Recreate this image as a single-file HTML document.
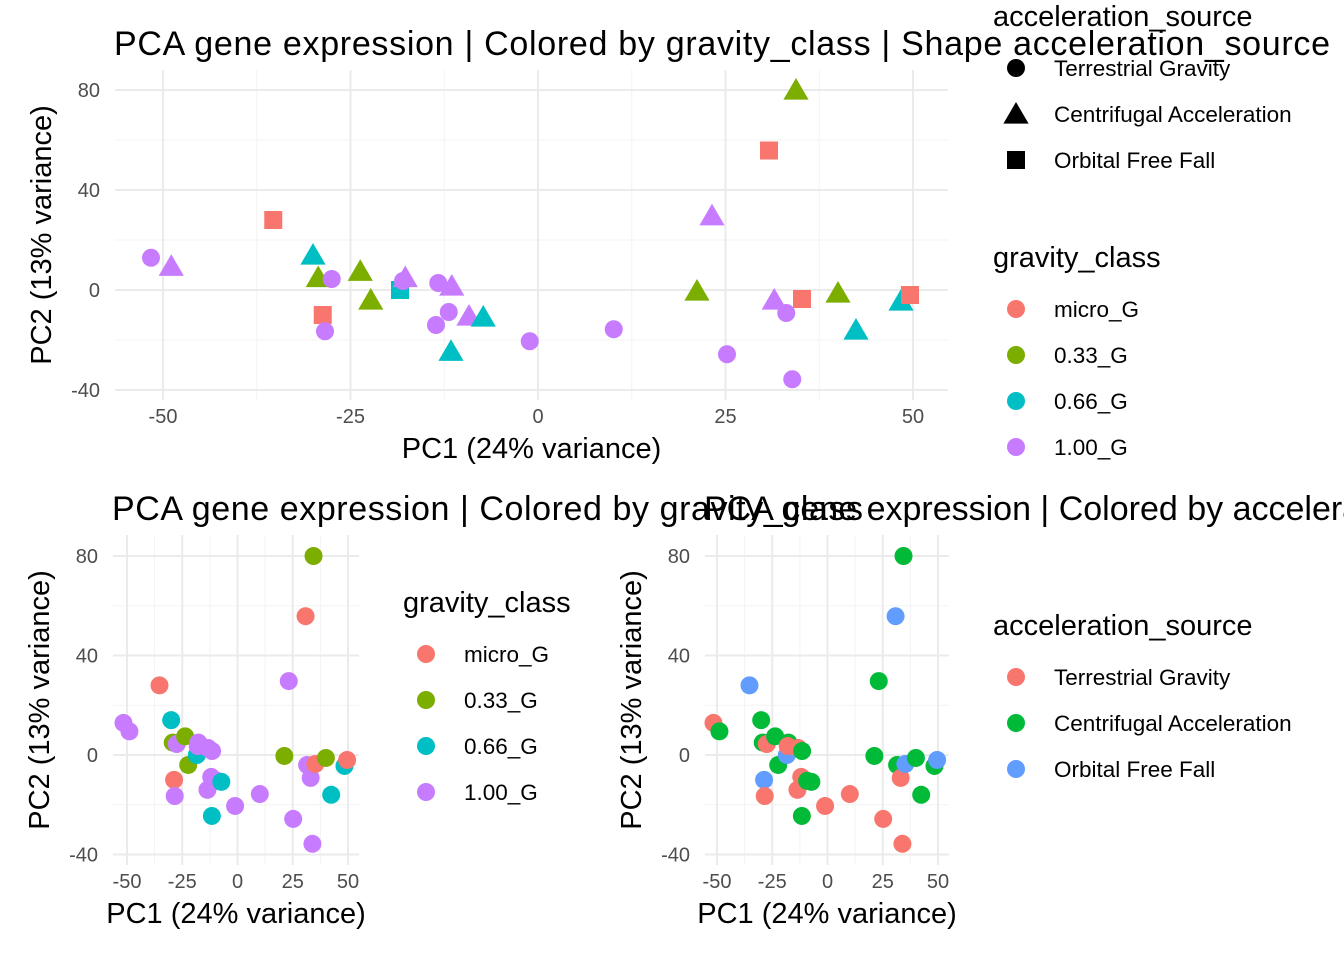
<!DOCTYPE html>
<html><head><meta charset="utf-8"><style>
html,body{margin:0;padding:0;background:#fff;}
svg{display:block;font-family:"Liberation Sans",Arial,sans-serif;}
</style></head><body>
<svg id="fig" width="1344" height="960" viewBox="0 0 1344 960"></svg>
<script>
const pc1 = [-51.6,-48.9,-35.3,-30,-29.3,-28.7,-28.4,-27.5,-23.7,-22.3,-18.4,-17.7,-18,-13.3,-11.5,-11.9,-13.6,-11.6,-9.2,-7.3,-1.1,10.1,21.2,23.2,25.2,30.8,31.5,33.1,34.4,33.9,35.2,40,42.4,48.4,49.6];
const pc2 = [12.9,9.5,28,14,5,-10,-16.5,4.4,7.5,-4,0,5,3.6,2.8,1.6,-8.8,-14,-24.5,-10.4,-10.8,-20.5,-15.7,-0.4,29.7,-25.7,55.8,-4,-9.2,80,-35.7,-3.6,-1.2,-16,-4.4,-2];
const gravity = ["1.00_G","1.00_G","micro_G","0.66_G","0.33_G","micro_G","1.00_G","1.00_G","0.33_G","0.33_G","0.66_G","1.00_G","1.00_G","1.00_G","1.00_G","1.00_G","1.00_G","0.66_G","1.00_G","0.66_G","1.00_G","1.00_G","0.33_G","1.00_G","1.00_G","micro_G","1.00_G","1.00_G","0.33_G","1.00_G","micro_G","0.33_G","0.66_G","0.66_G","micro_G"];
const accel = ["Terrestrial Gravity","Centrifugal Acceleration","Orbital Free Fall","Centrifugal Acceleration","Centrifugal Acceleration","Orbital Free Fall","Terrestrial Gravity","Terrestrial Gravity","Centrifugal Acceleration","Centrifugal Acceleration","Orbital Free Fall","Centrifugal Acceleration","Terrestrial Gravity","Terrestrial Gravity","Centrifugal Acceleration","Terrestrial Gravity","Terrestrial Gravity","Centrifugal Acceleration","Centrifugal Acceleration","Centrifugal Acceleration","Terrestrial Gravity","Terrestrial Gravity","Centrifugal Acceleration","Centrifugal Acceleration","Terrestrial Gravity","Orbital Free Fall","Centrifugal Acceleration","Terrestrial Gravity","Centrifugal Acceleration","Terrestrial Gravity","Orbital Free Fall","Centrifugal Acceleration","Centrifugal Acceleration","Centrifugal Acceleration","Orbital Free Fall"];
const gravityLevels = ["micro_G","0.33_G","0.66_G","1.00_G"];
const gravityColors = ["#F8766D","#7CAE00","#00BFC4","#C77CFF"];
const accelLevels = ["Terrestrial Gravity","Centrifugal Acceleration","Orbital Free Fall"];
const accelColors = ["#F8766D","#00BA38","#619CFF"];
const xTicks = [-50,-25,0,25,50];
const yTicks = [80,40,0,-40];

const NS="http://www.w3.org/2000/svg";
const svg=document.getElementById('fig');
function mk(tag,attrs,parent){const e=document.createElementNS(NS,tag);for(const k in attrs)e.setAttribute(k,attrs[k]);(parent||svg).appendChild(e);return e;}
function txt(s,attrs,parent){const e=mk('text',attrs,parent);e.textContent=s;return e;}

function shape(g,kind,cx,cy,color){
  let e;
  if(kind==='triangle'){const s=12;e=mk('polygon',{points:`${cx},${cy-s} ${cx-s*1.05},${cy+s*0.8} ${cx+s*1.05},${cy+s*0.8}`,fill:color},g);}
  else if(kind==='square'){e=mk('rect',{x:cx-9,y:cy-9,width:18,height:18,fill:color},g);}
  else {e=mk('circle',{cx:cx,cy:cy,r:9,fill:color},g);}
  return e;
}

function panel(opt){
  const g=mk('g',{});
  
  
  const sx=v=>opt.x0+(v-(-50))*(opt.x50-opt.x0)/100;
  const sy=v=>opt.y0+(v-0)*(opt.y80-opt.y0)/80;
  [-37.5,-12.5,12.5,37.5].forEach(v=>mk('line',{x1:sx(v),x2:sx(v),y1:opt.top,y2:opt.bottom,stroke:'#f3f3f3','stroke-width':1},g));
  [60,20,-20].forEach(v=>mk('line',{x1:opt.left,x2:opt.right,y1:sy(v),y2:sy(v),stroke:'#f3f3f3','stroke-width':1},g));
  xTicks.forEach(v=>{const l=mk('line',{x1:sx(v),x2:sx(v),y1:opt.top,y2:opt.bottom,stroke:'#ebebeb','stroke-width':2},g);});
  yTicks.forEach(v=>{const l=mk('line',{x1:opt.left,x2:opt.right,y1:sy(v),y2:sy(v),stroke:'#ebebeb','stroke-width':2},g);});
  xTicks.forEach(v=>{const t=txt(String(v),{x:sx(v),y:opt.bottom+23,'font-size':20,fill:'#4d4d4d','text-anchor':'middle'},g);});
  yTicks.forEach(v=>{const t=txt(String(v),{x:opt.left-15,y:sy(v)+7,'font-size':20,fill:'#4d4d4d','text-anchor':'end'},g);});
  const xt=txt('PC1 (24% variance)',{x:(opt.left+opt.right)/2,y:opt.bottom+58,'font-size':29,fill:'#000','text-anchor':'middle'},g);
  
  const yx=opt.left-64, yy=(opt.top+opt.bottom)/2;
  const yt=txt('PC2 (13% variance)',{x:yx,y:yy,'font-size':29,fill:'#000','text-anchor':'middle',transform:`rotate(-90 ${yx} ${yy})`},g);
  
  const tt=txt(opt.title,{x:opt.left-1,y:opt.titleY,'font-size':34,fill:'#000'},g);
  if(opt.titleLen) tt.setAttribute('textLength',opt.titleLen);
  
  for(let i=0;i<pc1.length;i++){
    let color,kind='circle';
    if(opt.mode==='accel'){color=accelColors[accelLevels.indexOf(accel[i])];}
    else color=gravityColors[gravityLevels.indexOf(gravity[i])];
    if(opt.mode==='both'){const a=accelLevels.indexOf(accel[i]);kind=a===0?'circle':a===1?'triangle':'square';}
    const e=shape(g,kind,sx(pc1[i]),sy(pc2[i]),color);
    
    
  }
}
function legend(title,labels,colors,kinds,x,ty,ys,name){
  const g=mk('g',{});
  
  
  const t=txt(title,{x:x,y:ty,'font-size':29,fill:'#000'},g);
  
  labels.forEach((l,i)=>{
    const k=shape(g,kinds?kinds[i]:'circle',x+23,ys[i],colors[i]);
    
    const e=txt(l,{x:x+61,y:ys[i]+8,'font-size':22.5,fill:'#000'},g);
    
  });
}
panel({name:'top-panel',mode:'both',x0:163,x50:913,y0:290,y80:90,left:115,right:948,top:70,bottom:400,title:'PCA gene expression | Colored by gravity_class | Shape acceleration_source',titleY:55,titleLen:1216});
panel({name:'bottom-left-panel',mode:'gravity',x0:127,x50:348,y0:755,y80:556,left:113,right:359,top:535,bottom:865,title:'PCA gene expression | Colored by gravity_class',titleY:520,titleLen:751});
panel({name:'bottom-right-panel',mode:'accel',x0:717,x50:938,y0:755,y80:556,left:705,right:949,top:535,bottom:865,title:'PCA gene expression | Colored by acceleration_source',titleY:520});
legend('acceleration_source',accelLevels,['#000','#000','#000'],['circle','triangle','square'],993,26,[68,114,160],'shape-legend');
legend('gravity_class',gravityLevels,gravityColors,null,993,267,[309,355,401,447],'gravity-legend-top');
legend('gravity_class',gravityLevels,gravityColors,null,403,612,[654,700,746,792],'gravity-legend-bottom');
legend('acceleration_source',accelLevels,accelColors,null,993,635,[677,723,769],'accel-legend-bottom');
</script>
</body></html>
